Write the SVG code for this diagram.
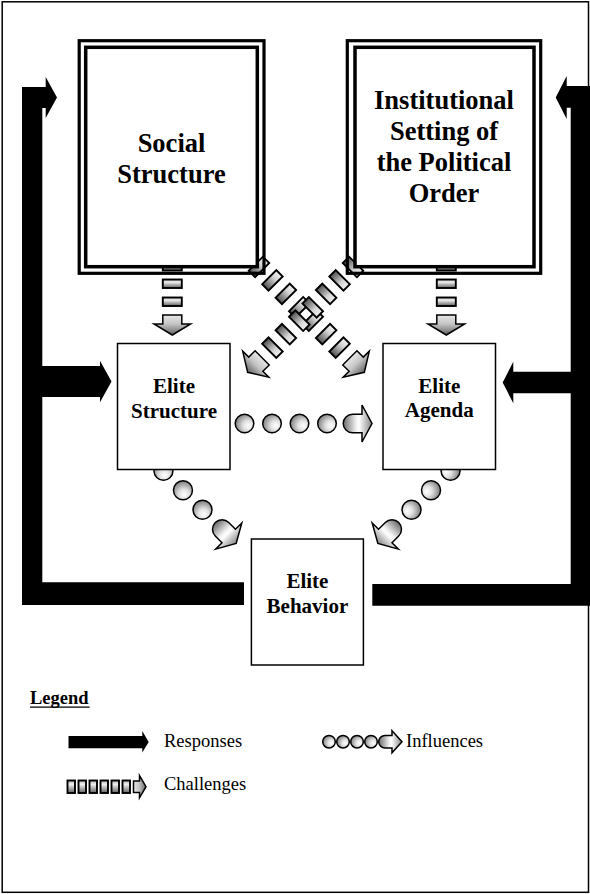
<svg xmlns="http://www.w3.org/2000/svg" width="590" height="894" viewBox="0 0 590 894">
<defs>
<style>
.lbl{font-family:'Liberation Serif','Times New Roman',serif;font-weight:bold;text-anchor:middle;fill:#000}
.big{font-size:26.5px}
.mid{font-size:21px}
.leg{font-family:'Liberation Serif','Times New Roman',serif;font-size:18.5px;fill:#000}
.box{fill:#fff;stroke:#000;stroke-width:1.5}
.resp{fill:#000;stroke:none}
.ch{stroke:#000;stroke-width:1.9}
.chv{fill:url(#gRect)}
.chd{fill:url(#gRectH)}
.hv{fill:url(#gHeadV);stroke:#000;stroke-width:1.5;stroke-linejoin:miter}
.hd{fill:url(#gHeadH);stroke:#000;stroke-width:1.5;stroke-linejoin:miter}
.ball{fill:url(#gBall);stroke:#000;stroke-width:1.5}
.barrow{fill:url(#gBallArrow);stroke:#000;stroke-width:1.5;stroke-linejoin:miter}
</style>
<linearGradient id="gRect" x1="0" y1="0" x2="0" y2="1">
<stop offset="0" stop-color="#a8a8a8"/><stop offset="0.3" stop-color="#f2f2f2"/><stop offset="1" stop-color="#5e5e5e"/>
</linearGradient>
<linearGradient id="gRectH" x1="0" y1="0" x2="0" y2="1">
<stop offset="0" stop-color="#f0f0f0"/><stop offset="0.35" stop-color="#d6d6d6"/><stop offset="1" stop-color="#4e4e4e"/>
</linearGradient>
<linearGradient id="gHeadV" x1="0" y1="0" x2="0" y2="1">
<stop offset="0" stop-color="#e8e8e8"/><stop offset="0.45" stop-color="#c4c4c4"/><stop offset="1" stop-color="#626262"/>
</linearGradient>
<linearGradient id="gHeadH" x1="0" y1="0" x2="1" y2="0">
<stop offset="0" stop-color="#e8e8e8"/><stop offset="0.45" stop-color="#c4c4c4"/><stop offset="1" stop-color="#626262"/>
</linearGradient>
<radialGradient id="gBall" cx="0.65" cy="0.6" r="0.75" fx="0.72" fy="0.62">
<stop offset="0" stop-color="#ffffff"/><stop offset="0.35" stop-color="#e2e2e2"/><stop offset="1" stop-color="#6a6a6a"/>
</radialGradient>
<linearGradient id="gBallArrow" x1="0" y1="0" x2="1" y2="0">
<stop offset="0" stop-color="#6a6a6a"/><stop offset="0.45" stop-color="#f0f0f0"/><stop offset="0.55" stop-color="#ffffff"/><stop offset="1" stop-color="#858585"/>
</linearGradient>
</defs>

<rect x="2.2" y="1.8" width="586.3" height="890.5" fill="#fff" stroke="#000" stroke-width="1.5"/>

<g id="connectors">
  <!-- Responses (thick black) -->
  <path class="resp" d="M22,87 H45.7 V77 L57,97.5 L45.7,118 V108 H42.3 V366 H100 V360.7 L111.5,381.5 L100,402.3 V397 H42.3 V582.3 H244 V605 H22 Z"/>
  <path class="resp" d="M590,86 H566.7 V76 L555.7,97.5 L566.7,119 V107.7 H570.7 V371.7 H513.3 V361.7 L502.7,382.5 L513.3,403.3 V393.3 H570.7 V584 H372.3 V605.7 H590 Z"/>

  <!-- Challenges: vertical -->
  <g id="ch-social-structure">
    <rect class="ch chv" x="162.8" y="262" width="19" height="8.5"/>
    <rect class="ch chv" x="162.8" y="279.5" width="19" height="8.5"/>
    <rect class="ch chv" x="162.8" y="297.5" width="19" height="8.5"/>
    <path class="hv" d="M162.8,315 H181.8 V324 H190.6 L172.3,335 L154,324 H162.8 Z"/>
  </g>
  <g id="ch-institution-agenda">
    <rect class="ch chv" x="436.8" y="262" width="19" height="8.5"/>
    <rect class="ch chv" x="436.8" y="279.5" width="19" height="8.5"/>
    <rect class="ch chv" x="436.8" y="297.5" width="19" height="8.5"/>
    <path class="hv" d="M436.8,315 H455.8 V324 H464.6 L446.3,335 L428,324 H436.8 Z"/>
  </g>
  <!-- Challenges: diagonal -->
  <g id="ch-social-agenda" transform="translate(306 314) rotate(45)">
    <rect class="ch chd" x="-71" y="-10" width="9" height="20"/>
    <rect class="ch chd" x="-52" y="-10" width="9" height="20"/>
    <rect class="ch chd" x="-33" y="-10" width="9" height="20"/>
    <rect class="ch chd" x="-14" y="-10" width="9" height="20"/>
    <rect class="ch chd" x="5" y="-10" width="9" height="20"/>
    <rect class="ch chd" x="24" y="-10" width="9" height="20"/>
    <rect class="ch chd" x="43" y="-10" width="9" height="20"/>
    <path class="hd" d="M62,-10 H71 V-18.5 L82.5,0 L71,18.5 V10 H62 Z"/>
  </g>
  <g id="ch-institution-structure" transform="translate(306 314) rotate(135)">
    <rect class="ch chd" x="-71" y="-10" width="9" height="20"/>
    <rect class="ch chd" x="-52" y="-10" width="9" height="20"/>
    <rect class="ch chd" x="-33" y="-10" width="9" height="20"/>
    <rect class="ch chd" x="-14" y="-10" width="9" height="20"/>
    <rect class="ch chd" x="5" y="-10" width="9" height="20"/>
    <rect class="ch chd" x="24" y="-10" width="9" height="20"/>
    <rect class="ch chd" x="43" y="-10" width="9" height="20"/>
    <path class="hd" d="M62,-10 H71 V-18.5 L82.5,0 L71,18.5 V10 H62 Z"/>
  </g>

  <!-- Influences -->
  <g id="inf-structure-agenda">
    <circle class="ball" cx="244.5" cy="423.5" r="9.3"/>
    <circle class="ball" cx="272" cy="423.5" r="9.3"/>
    <circle class="ball" cx="299.5" cy="423.5" r="9.3"/>
    <circle class="ball" cx="327" cy="423.5" r="9.3"/>
    <path class="barrow" transform="translate(352.5 423.5)" d="M0,-9.3 A9.3,9.3 0 0 0 0,9.3 H9.5 V18.5 L19.5,0 L9.5,-18.5 V-9.3 Z"/>
  </g>
  <g id="inf-structure-behavior" transform="translate(222 529.3) rotate(45)">
    <circle class="ball" cx="-82.8" cy="0" r="9.5"/>
    <circle class="ball" cx="-55.2" cy="0" r="9.5"/>
    <circle class="ball" cx="-27.6" cy="0" r="9.5"/>
    <path class="barrow" d="M0,-9.5 A9.5,9.5 0 0 0 0,9.5 H9.5 V18.5 L20,0 L9.5,-18.5 V-9.5 Z"/>
  </g>
  <g id="inf-agenda-behavior" transform="translate(392 529.3) rotate(135)">
    <circle class="ball" cx="-82.8" cy="0" r="9.5"/>
    <circle class="ball" cx="-55.2" cy="0" r="9.5"/>
    <circle class="ball" cx="-27.6" cy="0" r="9.5"/>
    <path class="barrow" d="M0,-9.5 A9.5,9.5 0 0 0 0,9.5 H9.5 V18.5 L20,0 L9.5,-18.5 V-9.5 Z"/>
  </g>
</g>

<g id="social-structure">
  <rect x="79.2" y="40.7" width="184.8" height="232.6" fill="none" stroke="#000" stroke-width="3.2"/>
  <rect x="85.7" y="47.3" width="171.6" height="219.4" fill="#fff" stroke="#000" stroke-width="3.5"/>
  <text class="lbl big" x="171.5" y="152">Social</text>
  <text class="lbl big" x="171.5" y="183">Structure</text>
</g>

<g id="institutional-setting">
  <rect x="347.3" y="40.7" width="193.4" height="232.6" fill="none" stroke="#000" stroke-width="3.2"/>
  <rect x="355" y="47.3" width="179" height="219.4" fill="#fff" stroke="#000" stroke-width="3.5"/>
  <text class="lbl big" x="444" y="108.5">Institutional</text>
  <text class="lbl big" x="444" y="139.5">Setting of</text>
  <text class="lbl big" x="444" y="170.5">the Political</text>
  <text class="lbl big" x="444" y="201.5">Order</text>
</g>

<g id="elite-structure">
  <rect class="box" x="117.5" y="343.5" width="112.5" height="126"/>
  <text class="lbl mid" x="174" y="392.5">Elite</text>
  <text class="lbl mid" x="174" y="417.5">Structure</text>
</g>

<g id="elite-agenda">
  <rect class="box" x="383" y="343.5" width="112.5" height="126"/>
  <text class="lbl mid" x="439.3" y="392.5">Elite</text>
  <text class="lbl mid" x="439.3" y="417">Agenda</text>
</g>

<g id="elite-behavior">
  <rect class="box" x="251.4" y="539" width="112" height="126"/>
  <text class="lbl mid" x="307.4" y="588">Elite</text>
  <text class="lbl mid" x="307.4" y="613">Behavior</text>
</g>

<g id="legend">
  <text class="leg" x="30" y="704" font-weight="bold">Legend</text>
  <line x1="30" y1="707.2" x2="89.6" y2="707.2" stroke="#000" stroke-width="1.3"/>

  <path class="resp" d="M68.5,736 H142.3 V731 L148.7,742 L142.3,752.5 V748.3 H68.5 Z"/>
  <text class="leg" x="164" y="747">Responses</text>

  <rect class="ch chv" x="67.5" y="780.5" width="7.5" height="12.5"/>
  <rect class="ch chv" x="78.5" y="780.5" width="7.5" height="12.5"/>
  <rect class="ch chv" x="89.5" y="780.5" width="7.5" height="12.5"/>
  <rect class="ch chv" x="100.5" y="780.5" width="7.5" height="12.5"/>
  <rect class="ch chv" x="111.5" y="780.5" width="7.5" height="12.5"/>
  <rect class="ch chv" x="122.5" y="780.5" width="7.5" height="12.5"/>
  <path class="hd" d="M133.5,781 H139.5 V775.5 L146,786.7 L139.5,797.8 V792.5 H133.5 Z"/>
  <text class="leg" x="164" y="790">Challenges</text>

  <circle class="ball" cx="329" cy="741.7" r="6.3"/>
  <circle class="ball" cx="343" cy="741.7" r="6.3"/>
  <circle class="ball" cx="357" cy="741.7" r="6.3"/>
  <circle class="ball" cx="371" cy="741.7" r="6.3"/>
  <path class="barrow" transform="translate(385 741.7)" d="M0,-6.3 A6.3,6.3 0 0 0 0,6.3 H7 V11 L17,0 L7,-11 V-6.3 Z"/>
  <text class="leg" x="406" y="747">Influences</text>
</g>
</svg>
